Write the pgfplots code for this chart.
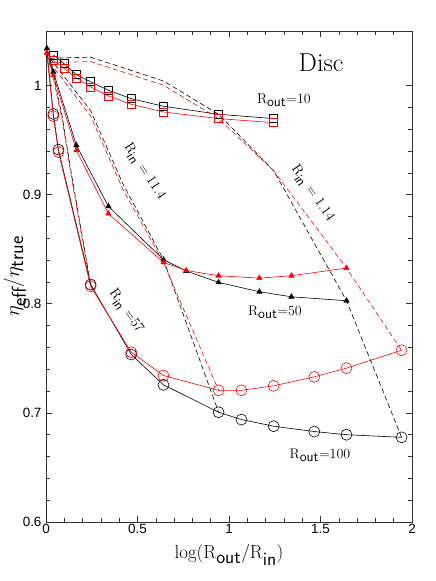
\documentclass[border=0pt]{standalone}
\usepackage{fontspec}
\usepackage{pgfplots}
\pgfplotsset{compat=1.18}
\newfontfamily\ticksf{Liberation Sans}
\newcommand{\sub}[1]{\textsf{#1}}
\begin{document}
\begin{tikzpicture}
\begin{axis}[
  scale only axis, width=366bp, height=491bp,
  xmin=0, xmax=2, ymin=0.6, ymax=1.05,
  xtick={0,0.5,1,1.5,2}, xticklabels={0,0.5,1,1.5,2},
  ytick={0.6,0.7,0.8,0.9,1}, yticklabels={0.6,0.7,0.8,0.9,1},
  minor x tick num=4, minor y tick num=4,
  xtick pos=both, ytick pos=both, xticklabel pos=lower, yticklabel pos=left,
  tick align=inside,
  major tick length=6bp, minor tick length=4bp,
  axis line style={line width=0.8pt, black!80},
  every tick/.style={black!80, line width=0.6pt},
  tick label style={font=\fontsize{13.5}{15}\selectfont\ticksf},
  /pgf/number format/assume math mode=true,
  xticklabel style={yshift=1bp},
  yticklabel style={xshift=-1bp},
  xlabel={log(R$_{\sub{out}}$/R$_{\sub{in}}$)},
  ylabel={$\eta_{\sub{eff}}/\eta_{\sub{true}}$},
  xlabel style={font=\fontsize{19}{21}\selectfont, at={(axis description cs:0.5,-0.067)}, anchor=center},
  ylabel style={font=\fontsize{20}{22}\selectfont, at={(axis description cs:-0.085,0.5)}, anchor=center},
  clip=true,
]
\coordinate (O) at (rel axis cs:0,0);
% Rout=10 squares
\addplot[black, line width=0.6pt, mark=square, mark size=4bp, mark options={solid, line width=0.6pt}] coordinates {
(0.0405,1.028) (0.0986,1.020) (0.165,1.010) (0.244,1.0035) (0.341,0.9957) (0.466,0.988) (0.642,0.981) (0.943,0.9737) (1.244,0.9697)};
\addplot[red, line width=0.6pt, mark=square, mark size=4bp, mark options={solid, line width=0.6pt}] coordinates {
(0.0405,1.023) (0.0986,1.016) (0.165,1.007) (0.244,0.9987) (0.341,0.9905) (0.466,0.9828) (0.642,0.9758) (0.943,0.9697) (1.244,0.966)};
% Rout=50 triangles
\addplot[black, line width=0.6pt, mark=triangle*, mark size=3bp, mark options={solid}] coordinates {
(0.005,1.034) (0.040,1.0125) (0.166,0.9452) (0.341,0.8893) (0.642,0.8404) (0.766,0.830) (0.943,0.8196) (1.166,0.811) (1.341,0.8064) (1.642,0.8028)};
\addplot[red, line width=0.6pt, mark=triangle*, mark size=3bp, mark options={solid}] coordinates {
(0.005,1.030) (0.040,1.0094) (0.166,0.9406) (0.341,0.8826) (0.642,0.8379) (0.766,0.8305) (0.943,0.8257) (1.166,0.8235) (1.341,0.8257) (1.642,0.8327)};
% Rout=100 circles
\addplot[black, line width=0.6pt, mark=o, mark size=5.5bp, mark indices={2,...,12}, mark options={solid, line width=0.6pt}] coordinates {
(0.005,1.032) (0.040,0.974) (0.068,0.9413) (0.244,0.8177) (0.466,0.7535) (0.642,0.7257) (0.943,0.7006) (1.068,0.6939) (1.244,0.6878) (1.466,0.6829) (1.642,0.6800) (1.943,0.6776)};
\addplot[red, line width=0.6pt, mark=o, mark size=5.5bp, mark indices={2,...,12}, mark options={solid, line width=0.6pt}] coordinates {
(0.005,1.028) (0.040,0.972) (0.068,0.939) (0.244,0.816) (0.466,0.7556) (0.642,0.7342) (0.943,0.7207) (1.068,0.7207) (1.244,0.7248) (1.466,0.733) (1.642,0.741) (1.943,0.7574)};
% dashed constant Rin lines
\addplot[black, line width=0.6pt, dash pattern=on 5bp off 3bp] coordinates {
(0.022,1.025) (0.244,1.026) (0.642,1.0042) (0.943,0.9737) (1.244,0.922) (1.642,0.8028) (1.943,0.6776)};
\addplot[red, line width=0.6pt, dash pattern=on 5bp off 3bp] coordinates {
(0.022,1.021) (0.244,1.022) (0.642,1.0003) (0.943,0.9697) (1.244,0.922) (1.642,0.8327) (1.943,0.7574)};
\addplot[black, line width=0.6pt, dash pattern=on 5bp off 3bp] coordinates {
(0.022,1.025) (0.244,0.977) (0.42,0.91) (0.642,0.8404) (0.943,0.7006)};
\addplot[red, line width=0.6pt, dash pattern=on 5bp off 3bp] coordinates {
(0.022,1.021) (0.244,0.972) (0.42,0.905) (0.642,0.8379) (0.943,0.7207)};
\addplot[black, line width=0.6pt, dash pattern=on 5bp off 3bp] coordinates {
(0.022,1.025) (0.089,0.971) (0.147,0.911) (0.244,0.8177)};
\addplot[red, line width=0.6pt, dash pattern=on 5bp off 3bp] coordinates {
(0.022,1.021) (0.089,0.968) (0.147,0.908) (0.244,0.816)};
% labels
\node[font=\fontsize{26}{28}\selectfont] at (axis cs:1.503,1.0205) {Disc};
\node[font=\fontsize{14}{16}\selectfont] at (axis cs:1.30,0.9865) {R$_{\sub{out}}$=10};
\node[font=\fontsize{14}{16}\selectfont] at (axis cs:1.251,0.792) {R$_{\sub{out}}$=50};
\node[font=\fontsize{14}{16}\selectfont] at (axis cs:1.497,0.661) {R$_{\sub{out}}$=100};
\node[font=\fontsize{14}{16}\selectfont, rotate=-55] at (axis cs:1.454,0.901) {R$_{\sub{in}}$ = 1.14};
\node[font=\fontsize{14}{16}\selectfont, rotate=-57] at (axis cs:0.536,0.921) {R$_{\sub{in}}$ = 11.4};
\node[font=\fontsize{14}{16}\selectfont, rotate=-55] at (axis cs:0.436,0.793) {R$_{\sub{in}}$ =57};
\end{axis}
\pgfresetboundingbox
\path (O) ++(-46bp,-59bp) rectangle ++(436bp,581bp);
\end{tikzpicture}
\end{document}
